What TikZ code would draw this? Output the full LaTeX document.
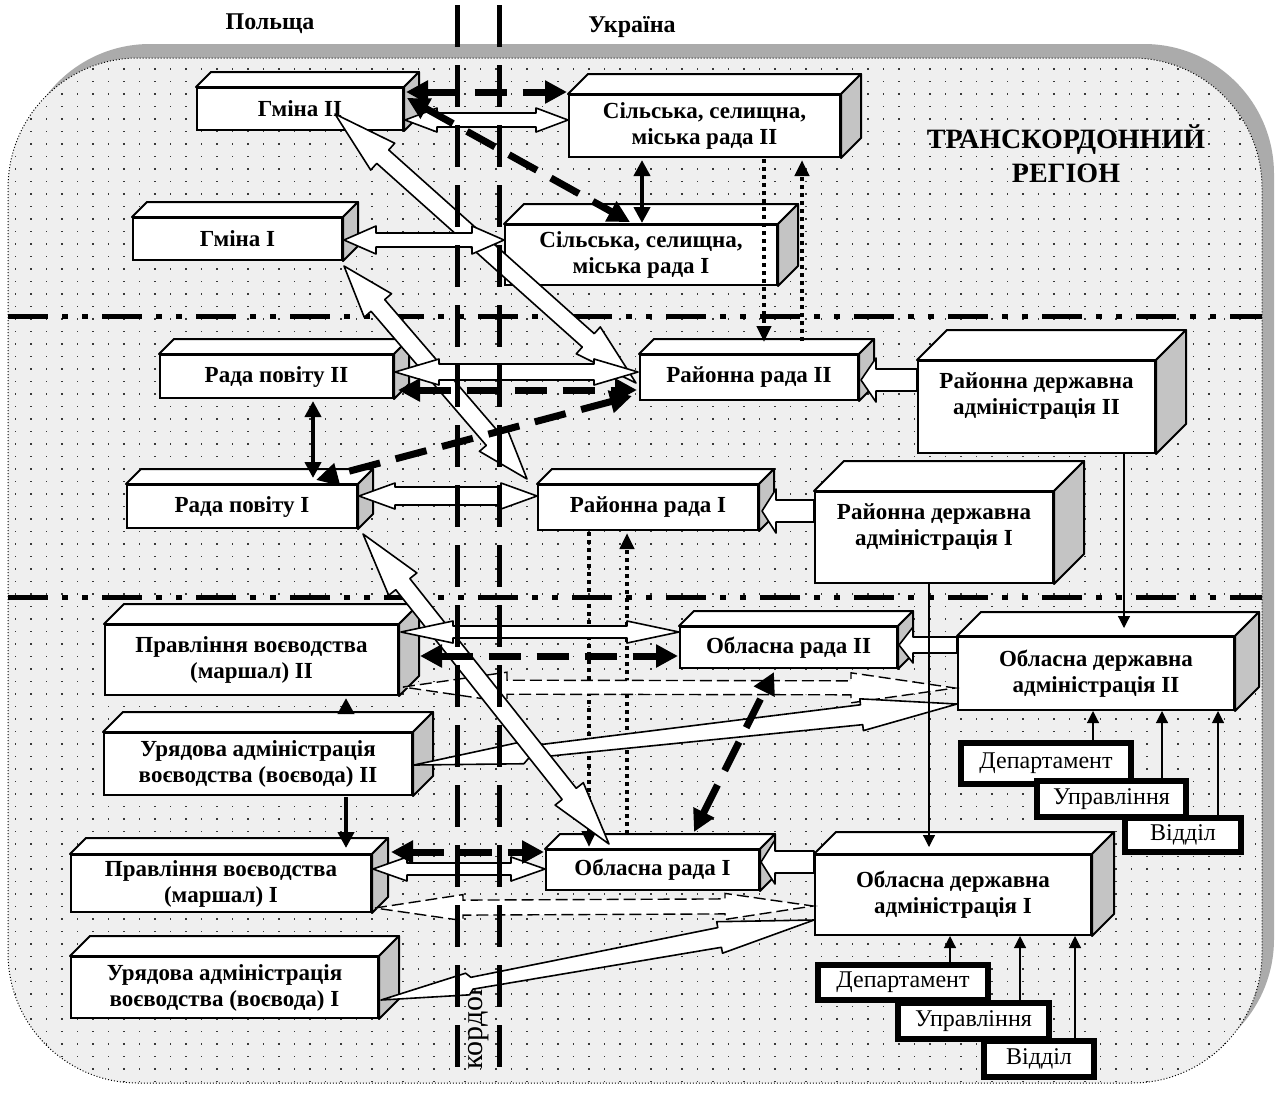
\documentclass[tikz,border=0pt]{standalone}
\usepackage{fontspec}
\setmainfont{Liberation Serif}
\usetikzlibrary{
  arrows.meta,
  calc,
  patterns
}
\definecolor{rgFill}{HTML}{EFEFEF}
\definecolor{rgShade}{HTML}{ABABAB}
\definecolor{rgSide}{HTML}{C4C4C4}
\definecolor{rgDot}{HTML}{383838}

\pgfdeclarepatternformonly{rgdots}{\pgfqpoint{-1pt}{-1pt}}{\pgfqpoint{1pt}{1pt}}{\pgfqpoint{7.75pt}{6.25pt}}{%
  \pgfpathrectangle{\pgfqpoint{-0.45pt}{-0.45pt}}{\pgfqpoint{0.9pt}{0.9pt}}%
  \pgfusepath{fill}}

\tikzset{
  box3d/.style={
    draw, line width=1pt, fill=white, align=center, inner sep=2pt,
    font=\fontsize{11.5}{13}\selectfont\bfseries,
    append after command={\pgfextra{\let\rgbox\tikzlastnode
      \draw[line width=1pt, line join=round, fill=white]
        (\rgbox.north west) -- ++(#1,-#1) -- ([shift={(#1,-#1)}]\rgbox.north east)
        -- (\rgbox.north east) -- cycle;
      \draw[line width=1pt, line join=round, fill=rgSide]
        (\rgbox.north east) -- ++(#1,-#1) -- ([shift={(#1,-#1)}]\rgbox.south east)
        -- (\rgbox.south east) -- cycle;}}
  },
  deptbox/.style={draw, line width=3pt, fill=white, inner sep=2pt,
    font=\fontsize{12}{14}\selectfont},
  head/.style={font=\fontsize{12}{14}\selectfont\bfseries},
  hollow/.style={draw, fill=white, line width=0.8pt, line join=round},
  hollowdash/.style={draw, fill=white, line width=0.7pt, dash pattern=on 6pt off 2.5pt},
  bolddash/.style={line width=3.5pt, dash pattern=on 16pt off 8pt, <->,
    >={Triangle[length=11pt,width=11pt]}},
  boldtwo/.style={line width=2pt, <->, >={Triangle[length=8pt,width=8pt]}},
  boldone/.style={line width=2pt, ->, >={Triangle[length=8pt,width=8pt]}},
  dotarrow/.style={line width=2pt, dash pattern=on 2pt off 2pt, ->,
    >={Triangle[length=8pt,width=7pt]}},
  thinarrow/.style={line width=0.6pt, ->, >={Triangle[length=6pt,width=6pt]}},
  sepline/.style={line width=2.5pt, dash pattern=on 20pt off 7pt on 3pt off 7pt on 3pt off 7pt},
  borderline/.style={line width=2.5pt, dash pattern=on 21pt off 9pt}
}

% block arrow with two heads: [style]{from}{to}{head length}{head half}{shaft half}
\newcommand{\dblarrow}[6][hollow]{%
  \draw[#1] (#2) -- ($(#2)!#4!(#3)!#5!90:(#3)$) -- ($(#2)!#4!(#3)!#6!90:(#3)$)
    -- ($(#3)!#4!(#2)!#6!-90:(#2)$) -- ($(#3)!#4!(#2)!#5!-90:(#2)$) -- (#3)
    -- ($(#3)!#4!(#2)!#5!90:(#2)$) -- ($(#3)!#4!(#2)!#6!90:(#2)$)
    -- ($(#2)!#4!(#3)!#6!-90:(#3)$) -- ($(#2)!#4!(#3)!#5!-90:(#3)$) -- cycle;}
% block arrow with flat tail
\newcommand{\onearrow}[6][hollow]{%
  \draw[#1] ($(#2)!#6!90:(#3)$) -- ($(#3)!#4!(#2)!#6!-90:(#2)$) -- ($(#3)!#4!(#2)!#5!-90:(#2)$)
    -- (#3) -- ($(#3)!#4!(#2)!#5!90:(#2)$) -- ($(#3)!#4!(#2)!#6!90:(#2)$)
    -- ($(#2)!#6!-90:(#3)$) -- cycle;}
% notched arrow with pointed tail
\newcommand{\boltarrow}[3][hollow]{%
  \draw[#1] (#2) -- ($(#2)!0.2!(#3)!5.5pt!90:(#3)$) -- ($(#2)!0.21!(#3)!3pt!90:(#3)$)
    -- ($(#3)!48pt!(#2)!5pt!-90:(#2)$) -- ($(#3)!48pt!(#2)!8pt!-90:(#2)$) -- (#3)
    -- ($(#3)!48pt!(#2)!8pt!90:(#2)$) -- ($(#3)!48pt!(#2)!5pt!90:(#2)$)
    -- ($(#2)!0.21!(#3)!3pt!-90:(#3)$) -- ($(#2)!0.2!(#3)!5.5pt!-90:(#3)$) -- cycle;}

\begin{document}
\begin{tikzpicture}[x=0.5pt, y=-0.5pt]
  \useasboundingbox (0,0) rectangle (1280,1094);
  % region
  \fill[rgShade, rounded corners=65pt] (20,44) rectangle (1274,1069);
  \fill[rgFill, rounded corners=65pt] (8,58) rectangle (1262,1083);
  \fill[pattern=rgdots, pattern color=rgDot, rounded corners=65pt] (8,58) rectangle (1262,1083);
  \draw[densely dotted, line width=0.5pt, rounded corners=65pt] (8,58) rectangle (1262,1083);
  \draw[sepline] (8,316) -- (1262,316);
  \draw[sepline] (8,597) -- (1262,597);

  \node[head] (pl) at (270,24) {Польща};
  \node[head] (ua) at (632,27) {Україна};
  \node[align=center, font=\fontsize{14}{17}\selectfont\bfseries] (title) at (1066,154) {ТРАНСКОРДОННИЙ\\РЕГІОН};
  \node[rotate=90, font=\fontsize{15}{15}\selectfont] (kordon) at (479,1025) {кордон};

  % boxes
  \node[box3d=15, minimum width=103pt, minimum height=21pt] (gII) at (300,109) {Гміна II};
  \node[box3d=20, minimum width=135.5pt, minimum height=31pt] (sII) at (704.5,126) {Сільська, селищна,\\міська рада II};
  \node[box3d=15, minimum width=104.5pt, minimum height=21pt] (gI) at (237.5,239) {Гміна I};
  \node[box3d=20, minimum width=136pt, minimum height=30pt] (sI) at (641,255) {Сільська, селищна,\\міська рада I};
  \node[box3d=15, minimum width=116.5pt, minimum height=21.5pt] (rpII) at (276.5,376.5) {Рада повіту II};
  \node[box3d=15, minimum width=109pt, minimum height=22.5pt] (rrII) at (749,377.5) {Районна рада II};
  \node[box3d=30, minimum width=118.5pt, minimum height=46pt] (rdaII) at (1036.5,407) {Районна державна\\адміністрація II\\\mbox{}};
  \node[box3d=15, minimum width=115pt, minimum height=21.5pt] (rpI) at (242,506.5) {Рада повіту I};
  \node[box3d=15, minimum width=110pt, minimum height=22.5pt] (rrI) at (648,507.5) {Районна рада I};
  \node[box3d=30, minimum width=119pt, minimum height=45.5pt] (rdaI) at (934,537.5) {Районна державна\\адміністрація I\\\mbox{}};
  \node[box3d=20, minimum width=146.5pt, minimum height=35pt] (pvII) at (251.5,660) {Правління воєводства\\(маршал) II};
  \node[box3d=15, minimum width=108.5pt, minimum height=20.5pt] (orII) at (788.5,647.5) {Обласна рада II};
  \node[box3d=24, minimum width=138pt, minimum height=36.5pt] (odaII) at (1096,673.5) {Обласна державна\\адміністрація II};
  \node[box3d=20, minimum width=154pt, minimum height=31pt] (uvII) at (258,764) {Урядова адміністрація\\воєводства (воєвода) II};
  \node[box3d=16, minimum width=150pt, minimum height=28.5pt] (pvI) at (221,883.5) {Правління воєводства\\(маршал) I};
  \node[box3d=15, minimum width=106.5pt, minimum height=20pt] (orI) at (652.5,870) {Обласна рада I};
  \node[box3d=22, minimum width=138pt, minimum height=40pt] (odaI) at (953,895) {Обласна державна\\адміністрація I};
  \node[box3d=20, minimum width=153.5pt, minimum height=30.5pt] (uvI) at (224.5,987.5) {Урядова адміністрація\\воєводства (воєвода) I};

  \node[deptbox, minimum width=85pt, minimum height=20.5pt] (dII) at (1046,763.5) {Департамент};
  \node[deptbox, minimum width=74.5pt, minimum height=18pt] (uII) at (1111.5,799) {Управління};
  \node[deptbox, minimum width=58pt, minimum height=17pt] (vII) at (1183,835) {Відділ};
  \node[deptbox, minimum width=85pt, minimum height=17.5pt] (dI) at (903,982.5) {Департамент};
  \node[deptbox, minimum width=75.5pt, minimum height=18pt] (uI) at (973.5,1021) {Управління};
  \node[deptbox, minimum width=55pt, minimum height=18pt] (vI) at (1039,1059) {Відділ};

  % arrow ends
  \coordinate (h1a) at ($(gII.east)+(1,11)$);       \coordinate (h1b) at ($(sII.west)+(0,-6)$);
  \coordinate (h2a) at ($(gI.east)+(1,1)$);         \coordinate (h2b) at ($(sI.west)+(0,-15)$);
  \coordinate (h3a) at ($(rpII.east)+(1,-4.5)$);    \coordinate (h3b) at ($(rrII.west)+(-1,-5.5)$);
  \coordinate (h4a) at ($(rpI.east)+(1,-10.5)$);    \coordinate (h4b) at ($(rrI.west)+(0,-11.5)$);
  \coordinate (h5a) at ($(pvII.east)+(2,-28)$);     \coordinate (h5b) at ($(orII.west)+(0,-15.5)$);
  \coordinate (h6a) at ($(pvI.east)+(1,-14.5)$);    \coordinate (h6b) at ($(orI.west)+(0,-1)$);
  \coordinate (s1a) at ($(rdaII.west)+(0,-27)$);    \coordinate (s1b) at ($(rrII.east)+(2,2.5)$);
  \coordinate (s2a) at ($(rdaI.west)+(0,-26.5)$);   \coordinate (s2b) at ($(rrI.east)+(3,3.5)$);
  \coordinate (s3a) at ($(odaII.west)+(0,-28.5)$);  \coordinate (s3b) at ($(orII.east)+(1,-2.5)$);
  \coordinate (s4a) at ($(odaI.west)+(0,-33)$);     \coordinate (s4b) at ($(orI.east)+(1,-8)$);
  \coordinate (d1a) at ($(gII.south)+(35,-17)$);    \coordinate (d1b) at ($(rrII.west)+(-3,5.5)$);
  \coordinate (d2a) at ($(gI.south east)+(1,5)$);   \coordinate (d2b) at ($(rrI.north west)+(-10,-5)$);
  \coordinate (d3a) at ($(rpI.south east)+(5,5)$);  \coordinate (d3b) at ($(orI.north west)+(64,-5)$);
  \coordinate (w1a) at ($(uvII.east)+(1,1)$);       \coordinate (w1b) at ($(odaII.south west)+(0,-7)$);
  \coordinate (w2a) at ($(uvI.east)+(2,12.5)$);     \coordinate (w2b) at ($(odaI.west)+(0,25)$);
  \coordinate (t1a) at ($(pvII.east)+(4,27)$);      \coordinate (t1b) at ($(odaII.west)+(-2,14.5)$);
  \coordinate (t2a) at ($(pvI.east)+(3,24.5)$);     \coordinate (t2b) at ($(odaI.west)+(-1,11)$);
  \coordinate (k1a) at ($(gII.north east)+(2,5)$);  \coordinate (k1b) at ($(sII.north west)+(-1,-2)$);
  \coordinate (k2a) at ($(gII.north east)+(3,11)$); \coordinate (k2b) at ($(sI.north)+(-11,-2)$);
  \coordinate (k3a) at ($(rpII.east)+(4,13.5)$);    \coordinate (k3b) at ($(rrII.west)+(-2,12.5)$);
  \coordinate (k4a) at ($(rrII.west)+(-7,18.5)$);   \coordinate (k4b) at ($(rpI.north)+(74,-4)$);
  \coordinate (k5a) at ($(pvII.east)+(21,-4)$);     \coordinate (k5b) at ($(orII.west)+(-1,8.5)$);
  \coordinate (k6a) at ($(pvI.east)+(19,-31.5)$);   \coordinate (k6b) at ($(orI.west)+(-1,-18)$);
  \coordinate (k7a) at ($(orI.north)+(41.5,-17)$);  \coordinate (k7b) at ($(orII.south)+(-14.5,3)$);
  \coordinate (v1a) at ($(sII.south)+(-62.5,2)$);   \coordinate (v1b) at ($(sI.north)+(1,-1)$);
  \coordinate (v2a) at ($(rpII.south)+(36.5,2)$);   \coordinate (v2b) at ($(rpI.north)+(71,-6)$);
  \coordinate (v3a) at ($(uvII.south)+(88,1)$);     \coordinate (v3b) at ($(pvI.north)+(125,-6)$);
  \coordinate (v4a) at ($(uvII.north)+(88,-18)$);   \coordinate (v4b) at ($(pvII.south)+(94.5,2)$);
  \coordinate (o1a) at ($(sII.south)+(59.5,1)$);    \coordinate (o1b) at ($(rrII.north)+(15,-12)$);
  \coordinate (o2a) at ($(rrII.north)+(53,-13)$);   \coordinate (o2b) at ($(sII.south)+(97.5,2)$);
  \coordinate (o3a) at ($(rrI.south)+(-59,1)$);     \coordinate (o3b) at ($(orI.north)+(-63.5,-2)$);
  \coordinate (o4a) at ($(orI.north)+(-25.5,-15)$); \coordinate (o4b) at ($(rrI.south)+(-21,2)$);
  \coordinate (n1a) at ($(rdaII.south)+(87.5,0)$);  \coordinate (n1b) at ($(odaII.north)+(28,-8)$);
  \coordinate (n2a) at ($(rdaI.south)+(-5,0)$);     \coordinate (n2b) at ($(odaI.north)+(-24,-7)$);
  \coordinate (n3) at ($(dII.north)+(47,0)$);
  \coordinate (n4) at ($(uII.north)+(50.5,0)$);
  \coordinate (n5) at ($(vII.north)+(35,0)$);
  \coordinate (n6) at ($(dI.north)+(47,0)$);
  \coordinate (n7) at ($(uI.north)+(46.5,0)$);
  \coordinate (n8) at ($(vI.north)+(36,0)$);

  % dotted links
  \draw[dotarrow] (o1a) -- (o1b);
  \draw[dotarrow] (o2a) -- (o2b);
  \draw[dotarrow] (o3a) -- (o3b);
  \draw[dotarrow] (o4a) -- (o4b);

  % block arrows
  \dblarrow{d1a}{d1b}{32pt}{9pt}{4.5pt}
  \dblarrow{d2a}{d2b}{26pt}{9pt}{4.5pt}
  \dblarrow[hollowdash]{t1a}{t1b}{52pt}{7.5pt}{3.5pt}
  \dblarrow[hollowdash]{t2a}{t2b}{44pt}{6.5pt}{3.75pt}
  \boltarrow{w1a}{w1b}
  \boltarrow{w2a}{w2b}
  \dblarrow{d3a}{d3b}{32pt}{9pt}{4.5pt}
  \dblarrow{h1a}{h1b}{16pt}{6pt}{3.5pt}
  \dblarrow{h2a}{h2b}{16pt}{7pt}{3.5pt}
  \dblarrow{h3a}{h3b}{22pt}{6.5pt}{4pt}
  \dblarrow{h4a}{h4b}{18pt}{6.5pt}{4.5pt}
  \dblarrow{h5a}{h5b}{26pt}{5.5pt}{3pt}
  \dblarrow{h6a}{h6b}{17pt}{6pt}{3pt}
  \onearrow{s1a}{s1b}{7.5pt}{11pt}{5.5pt}
  \onearrow{s2a}{s2b}{7pt}{11pt}{5.5pt}
  \onearrow{s3a}{s3b}{7pt}{9pt}{4pt}
  \onearrow{s4a}{s4b}{7pt}{11pt}{5.5pt}

  % bold links
  \draw[bolddash] (k1a) -- (k1b);
  \draw[bolddash] (k2a) -- (k2b);
  \draw[bolddash] (k3a) -- (k3b);
  \draw[bolddash] (k4a) -- (k4b);
  \draw[bolddash] (k5a) -- (k5b);
  \draw[bolddash] (k6a) -- (k6b);
  \draw[bolddash] (k7a) -- (k7b);
  \draw[boldtwo] (v1a) -- (v1b);
  \draw[boldtwo] (v2a) -- (v2b);
  \draw[boldone] (v3a) -- (v3b);
  \draw[boldone] (v4a) -- (v4b);

  % thin links
  \draw[thinarrow] (n1a) -- (n1b);
  \draw[thinarrow] (n2a) -- (n2b);
  \draw[thinarrow] (n3) -- (n3 |- odaII.south);
  \draw[thinarrow] (n4) -- (n4 |- odaII.south);
  \draw[thinarrow] (n5) -- (n5 |- odaII.south);
  \draw[thinarrow] (n6) -- (n6 |- odaI.south);
  \draw[thinarrow] (n7) -- (n7 |- odaI.south);
  \draw[thinarrow] (n8) -- (n8 |- odaI.south);

  % border
  \draw[borderline] (457,5) -- (457,1082);
  \draw[borderline] (499,5) -- (499,1082);
\end{tikzpicture}
\end{document}
